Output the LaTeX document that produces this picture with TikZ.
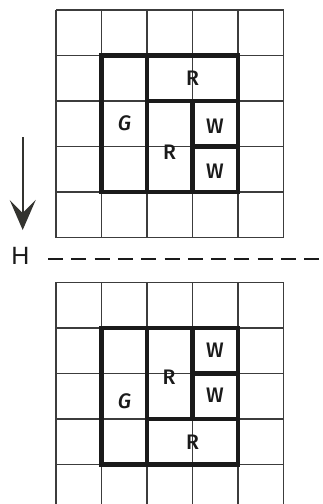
\documentclass[tikz,border=0pt]{standalone}
\usepackage{fontspec}
\setmainfont{Fira Sans}
\newfontfamily\labfont{Fira Sans}[UprightFont=* Medium, ItalicFont=* Medium Italic]
\newfontfamily\hfont{Liberation Sans}
\usetikzlibrary{arrows.meta}
\definecolor{ink}{HTML}{1A1A1A}
\definecolor{arrowink}{HTML}{33332F}
\tikzset{
  gridline/.style={draw=ink!85, line width=1.5pt},
  blockline/.style={draw=ink, line width=4.5pt, line cap=rect},
  blocklabel/.style={font=\labfont\fontsize{21}{21}\selectfont, text=ink, inner sep=0pt},
  guide/.style={draw=ink, line width=1.5pt, dash pattern=on 15pt off 8.3pt},
}
\begin{document}
\begin{tikzpicture}[x=1pt,y=-1pt]
\useasboundingbox (0,0) rectangle (322,504);
\clip (0,0) rectangle (322,504);
\fill[white] (0,0) rectangle (322,504);

% upper board: 5x5 grid with its block layout
\begin{scope}[shift={(56,10)}]
  \foreach \i in {0,...,5} {
    \draw[gridline] (45.5*\i,0) -- (45.5*\i,227.5);
    \draw[gridline] (0,45.5*\i) -- (227.5,45.5*\i);
  }
  \draw[blockline] (45.5,45.5) rectangle (182,182);
  \draw[blockline] (91,45.5) -- (91,182);
  \draw[blockline] (91,91) -- (182,91);
  \draw[blockline] (136.5,91) -- (136.5,182);
  \draw[blockline] (136.5,136.5) -- (182,136.5);
  \node[blocklabel] (tg) at (68.5,113) {\itshape G};
  \node[blocklabel] (tr1) at (136.5,68) {R};
  \node[blocklabel] (tr2) at (113.5,142) {R};
  \node[blocklabel] (tw1) at (159,116) {W};
  \node[blocklabel] (tw2) at (159,161) {W};
\end{scope}

% downward move arrow
\coordinate (arrowtop) at (22.7,137);
\coordinate (arrowtip) at (22.7,230);
\draw[arrowink, line width=1.7pt,
  -{Stealth[length=30pt,width=26pt,inset=13pt]}] (arrowtop) -- (arrowtip);

% horizon line
\node[font=\hfont\fontsize{25}{25}\selectfont, text=ink, inner sep=0pt]
  (hlabel) at (20.5,256) {H};
\coordinate (dashstart) at (48,259);
\coordinate (dashend) at (330,259);
\draw[guide] (dashstart) -- (dashend);

% lower board: same grid, blocks rearranged
\begin{scope}[shift={(56,282.3)}]
  \foreach \i in {0,...,5} {
    \draw[gridline] (45.5*\i,0) -- (45.5*\i,240);
  }
  \foreach \i in {0,...,4} {
    \draw[gridline] (0,45.5*\i) -- (227.5,45.5*\i);
  }
  \draw[blockline] (45.5,45.5) rectangle (182,182);
  \draw[blockline] (91,45.5) -- (91,182);
  \draw[blockline] (136.5,45.5) -- (136.5,136.5);
  \draw[blockline] (136.5,91) -- (182,91);
  \draw[blockline] (91,136.5) -- (182,136.5);
  \node[blocklabel] (bw1) at (159,68) {W};
  \node[blocklabel] (bw2) at (159,113) {W};
  \node[blocklabel] (br1) at (113,95) {R};
  \node[blocklabel] (bg) at (68.5,119) {\itshape G};
  \node[blocklabel] (br2) at (136.5,160) {R};
\end{scope}
\end{tikzpicture}
\end{document}
